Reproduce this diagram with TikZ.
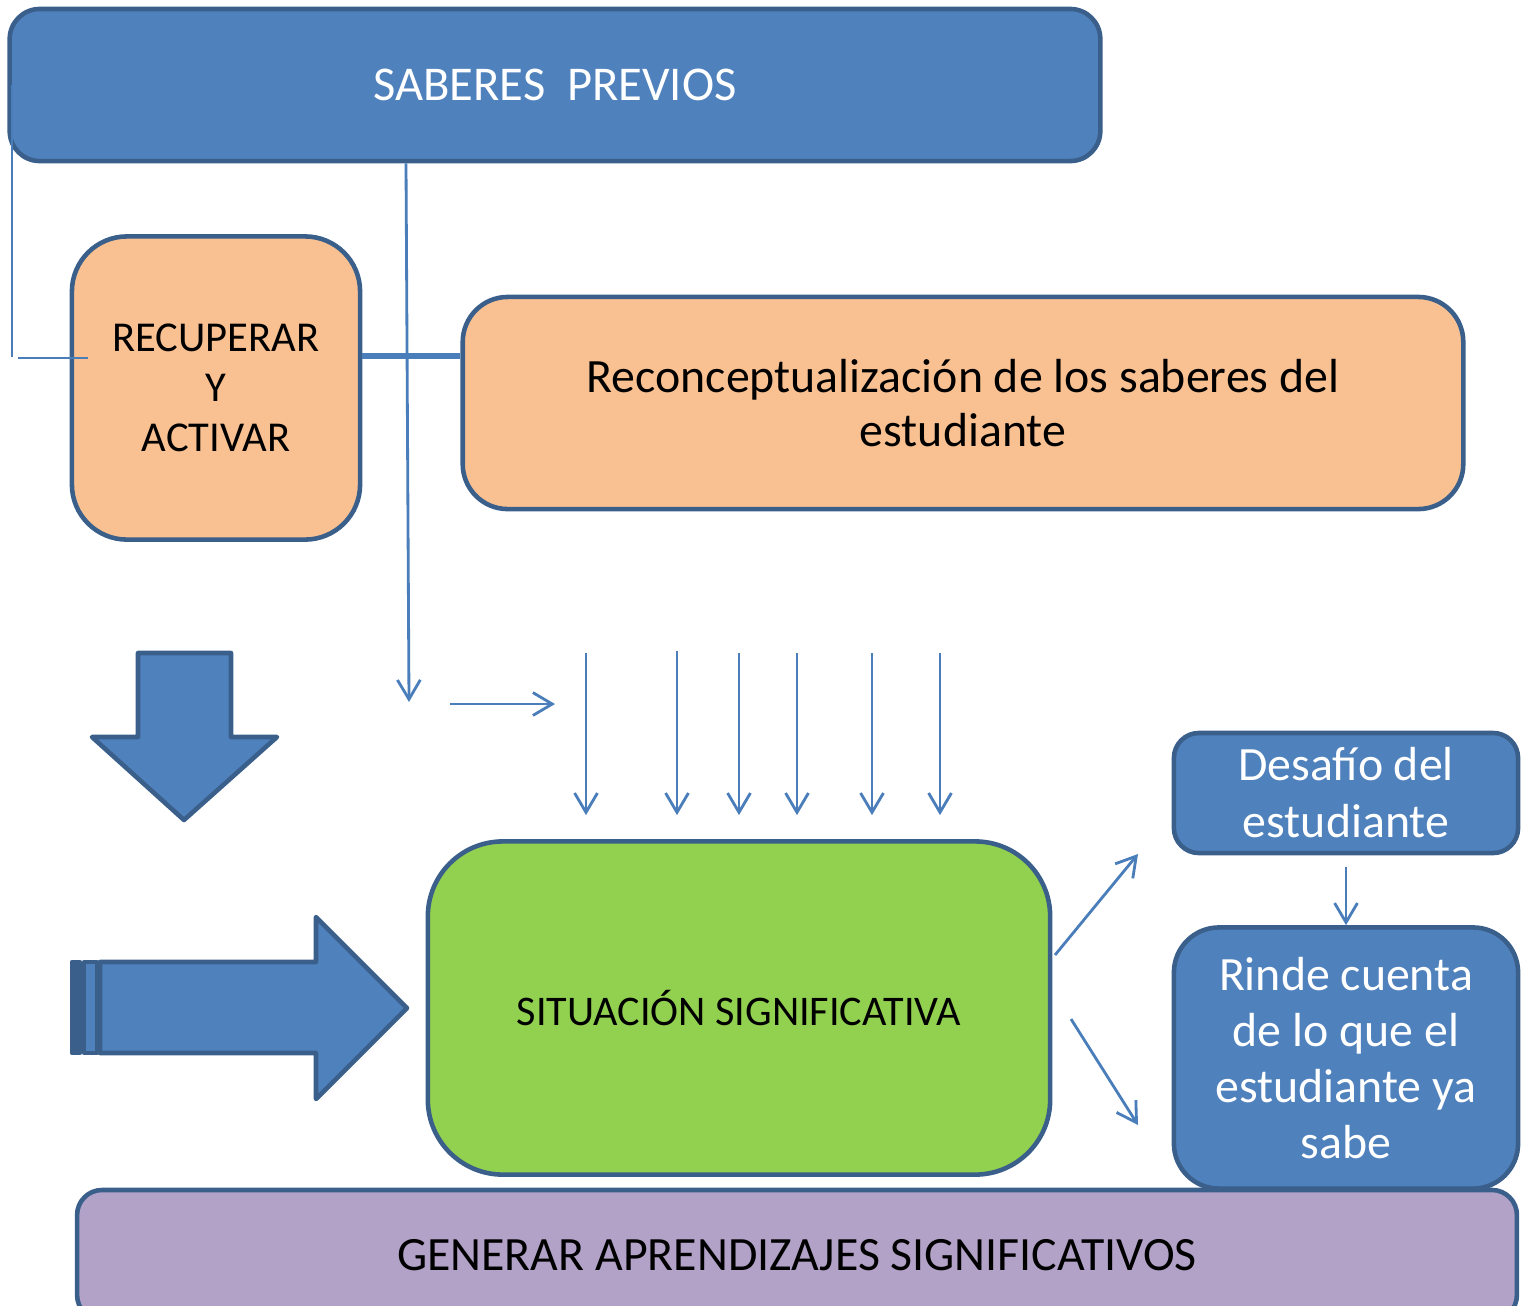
\documentclass[tikz,border=0pt]{standalone}
\usepackage{fontspec}
\setmainfont{Carlito}
\usetikzlibrary{positioning,arrows.meta}
\definecolor{azul}{HTML}{4F81BD}
\definecolor{borde}{HTML}{3A5F8B}
\definecolor{linea}{HTML}{4A7EBB}
\definecolor{naranja}{HTML}{F9C192}
\definecolor{verde}{HTML}{92D050}
\definecolor{lila}{HTML}{B3A2C7}

\begin{document}
\begin{tikzpicture}[x=0.01cm,y=-0.01cm,line join=round,
  caja/.style={draw=borde,line width=1.3pt,align=center,inner sep=0pt},
  cajaazul/.style={caja,fill=azul,text=white},
  cajanaranja/.style={caja,fill=naranja},
  flecha/.style={draw=linea,line width=0.8pt,-{Straight Barb[length=5.5pt,width=6.5pt]}},
  linea/.style={draw=linea,line width=0.8pt}]

\useasboundingbox (0,0) rectangle (1527,1305);

% cajas
\node[cajaazul,rounded corners=0.3cm,minimum width=10.9cm,minimum height=1.52cm,
  font=\fontsize{13.8}{17}\selectfont](sab) at (555,85){SABERES~ PREVIOS};
\node[cajanaranja,rounded corners=0.55cm,minimum width=2.88cm,minimum height=3.03cm,
  font=\fontsize{12.1}{14.2}\selectfont](rec) at (216,388){RECUPERAR\\Y\\ACTIVAR};
\node[cajanaranja,rounded corners=0.45cm,minimum width=10cm,minimum height=2.12cm,
  font=\fontsize{13.6}{15.6}\selectfont](reco) at (963,403){Reconceptualización de los saberes del\\estudiante};
\node[caja,fill=verde,rounded corners=0.75cm,minimum width=6.22cm,minimum height=3.33cm,
  font=\fontsize{12}{14}\selectfont](sit) at (739,1008){SITUACIÓN SIGNIFICATIVA};
\node[cajaazul,rounded corners=0.25cm,minimum width=3.44cm,minimum height=1.2cm,
  font=\fontsize{13.6}{16.2}\selectfont](des) at (1346,793){Desafío del\\estudiante};
\node[cajaazul,rounded corners=0.45cm,minimum width=3.44cm,minimum height=2.61cm,
  font=\fontsize{13.6}{16}\selectfont](rin) at (1346,1058){Rinde cuenta\\de lo que el\\estudiante ya\\sabe};
\node[caja,fill=lila,rounded corners=0.25cm,minimum width=14.39cm,minimum height=1.3cm,
  font=\fontsize{13.6}{17}\selectfont](gen) at (797,1255){GENERAR APRENDIZAJES SIGNIFICATIVOS};

% flechas de bloque
\draw[draw=borde,fill=azul,line width=1.3pt] (138,653) -- (231,653) -- (231,737) -- (277,737)
  -- (184,820) -- (92,737) -- (138,737) -- cycle;
\draw[draw=borde,fill=azul,line width=1.3pt] (100,962) -- (316,962) -- (316,917) -- (407,1008)
  -- (316,1099) -- (316,1053) -- (100,1053) -- cycle;
\draw[draw=borde,fill=azul,line width=1.3pt] (84,962) rectangle (97,1053);
\draw[draw=borde,fill=borde,line width=1.3pt] (72,962) rectangle (80,1053);

% puntos libres
\coordinate (p1) at (12,357);
\coordinate (p2) at (18,358);
\coordinate (p3) at (88,358);
\coordinate (p4) at (409,702);
\coordinate (p5) at (450,704);
\coordinate (p6) at (555,704);
\coordinate (d1) at (586,653);
\coordinate (d2) at (677,651);
\coordinate (d3) at (739,653);
\coordinate (d4) at (797,653);
\coordinate (d5) at (872,653);
\coordinate (d6) at (940,653);
\coordinate (s1) at (1055,955);
\coordinate (s2) at (1138,854);
\coordinate (s3) at (1071,1019);
\coordinate (s4) at (1138,1125);

% conectores
\draw[linea] (p1 |- sab.west) -- (p1);
\draw[linea] (p2) -- (p3);
\draw[draw=linea,line width=1.8pt] (rec.east |- p3) ++(0,-2) -- (reco.west |- 0,356);
\draw[flecha] (sab.south -| 406,0) -- (p4);
\draw[flecha] (p5) -- (p6);
\path (d1) edge[flecha,shorten >=0.24cm] (d1 |- sit.north)
  (d2) edge[flecha,shorten >=0.24cm] (d2 |- sit.north)
  (d3) edge[flecha,shorten >=0.24cm] (d3 |- sit.north)
  (d4) edge[flecha,shorten >=0.24cm] (d4 |- sit.north)
  (d5) edge[flecha,shorten >=0.24cm] (d5 |- sit.north)
  (d6) edge[flecha,shorten >=0.24cm] (d6 |- sit.north);
\draw[flecha] (s1) -- (s2);
\draw[flecha] (s3) -- (s4);
\draw[flecha,shorten <=0.12cm] (des.south) -- (rin.north);

\end{tikzpicture}
\end{document}
